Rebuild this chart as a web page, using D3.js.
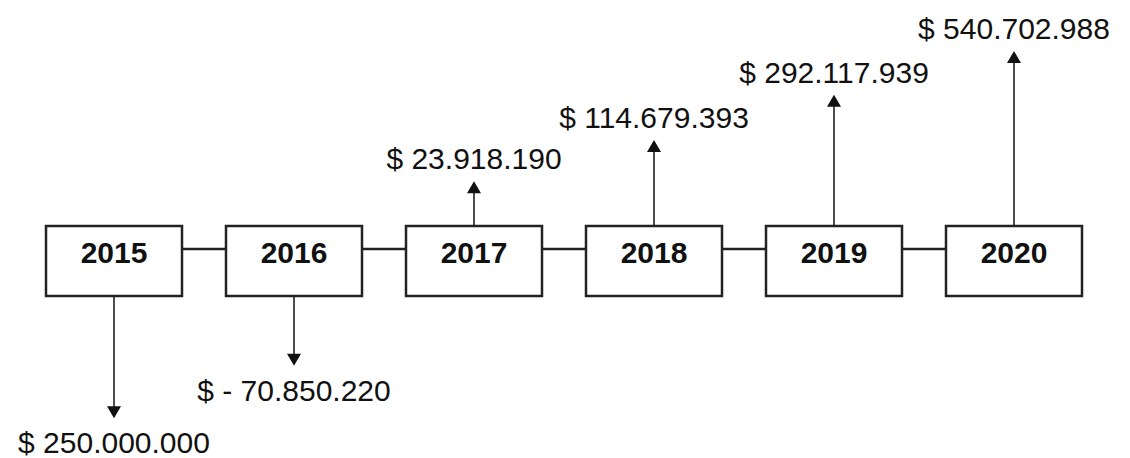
<!DOCTYPE html>
<html lang="en">
<head>
  <meta charset="UTF-8">
  <title>Cash flow timeline</title>
  <script src="https://cdn.jsdelivr.net/npm/d3@7"></script>
  <style>
    body { margin: 0; background: #fff; }
    text { font-family: "Liberation Sans", Arial, sans-serif; fill: #111; }
  </style>
</head>
<body>
<svg width="1130" height="458"></svg>
<script>
  // chart data
  var years = ['2015', '2016', '2017', '2018', '2019', '2020'];
  var flows = [-250000000, -70850220, 23918190, 114679393, 292117939, 540702988];
  var labels = ['$ 250.000.000', '$ - 70.850.220', '$ 23.918.190', '$ 114.679.393', '$ 292.117.939', '$ 540.702.988'];

  var svg = d3.select('svg');
  var boxW = 136, boxH = 70, boxTop = 226, lineY = 249;
  var boxBottom = boxTop + boxH;

  var x = d3.scalePoint()
    .domain(years)
    .range([114, 1014]);

  // arrow length from absolute value
  var len = d3.scaleSqrt()
    .domain([0, d3.max(flows, function (d) { return Math.abs(d); })])
    .range([10, 175]);

  var data = years.map(function (y, i) {
    return {year: y, value: flows[i], label: labels[i]};
  });

  // connecting line
  svg.append('line')
    .attr('x1', x(years[0]))
    .attr('x2', x(years[years.length - 1]))
    .attr('y1', lineY)
    .attr('y2', lineY)
    .attr('stroke', '#222')
    .attr('stroke-width', 2.5);

  var g = svg.selectAll('g.year')
    .data(data)
    .enter().append('g')
    .attr('class', 'year');

  g.append('rect')
    .attr('x', function (d) { return x(d.year) - boxW / 2; })
    .attr('y', boxTop)
    .attr('width', boxW)
    .attr('height', boxH)
    .attr('fill', '#fff')
    .attr('stroke', '#222')
    .attr('stroke-width', 2.5);

  g.append('text')
    .attr('x', function (d) { return x(d.year); })
    .attr('y', boxTop + 37)
    .attr('text-anchor', 'middle')
    .attr('font-size', 30)
    .attr('font-weight', 'bold')
    .text(function (d) { return d.year; });

  function tipY(d) {
    return d.value < 0 ? boxBottom + len(Math.abs(d.value)) : boxTop - len(d.value);
  }

  g.append('line')
    .attr('x1', function (d) { return x(d.year); })
    .attr('x2', function (d) { return x(d.year); })
    .attr('y1', function (d) { return d.value < 0 ? boxBottom : boxTop; })
    .attr('y2', function (d) { return d.value < 0 ? tipY(d) - 10 : tipY(d) + 10; })
    .attr('stroke', '#222')
    .attr('stroke-width', 1.6);

  g.append('path')
    .attr('fill', '#111')
    .attr('d', function (d) {
      var cx = x(d.year), ty = tipY(d), s = d.value < 0 ? -1 : 1;
      return 'M' + cx + ',' + ty + 'L' + (cx - 7) + ',' + (ty + s * 12) + 'L' + (cx + 7) + ',' + (ty + s * 12) + 'Z';
    });

  g.append('text')
    .attr('x', function (d) { return x(d.year); })
    .attr('y', function (d) { return d.value < 0 ? tipY(d) + 35 : tipY(d) - 12; })
    .attr('text-anchor', 'middle')
    .attr('font-size', 30)
    .text(function (d) { return d.label; });
</script>
</body>
</html>
